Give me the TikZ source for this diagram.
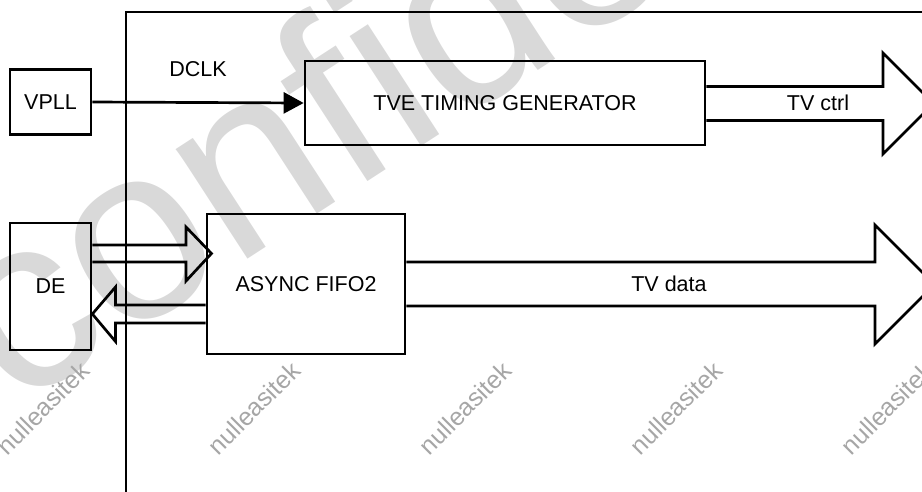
\documentclass[tikz,border=0pt]{standalone}
\usepackage{fontspec}
\setmainfont{Liberation Sans}
\usetikzlibrary{arrows.meta,calc}
\begin{document}
\begin{tikzpicture}[x=1pt,y=-1pt,
  lw/.style={line width=2.7pt},
  blk/.style={lw,draw=black,rectangle,inner sep=0pt,font=\fontsize{21.5}{21.5}\selectfont},
  lbl/.style={inner sep=0pt,font=\fontsize{21.5}{21.5}\selectfont},
  bar/.style={lw,line join=miter},
  wmsmall/.style={rotate=45,text=black!35,inner sep=0pt,font=\fontsize{25}{25}\selectfont},
  wmbig/.style={text=black!15,inner sep=0pt,font=\fontsize{248}{248}\selectfont}]
\useasboundingbox (0,0) rectangle (922,491);
\clip (0,0) rectangle (922,491);
% background watermarks
\node[wmbig,rotate=33,anchor=base west] (wmc) at (14,411) {confidential};
\foreach \i/\xx in {1/43,2/254,3/465,4/676,5/887}
  \node[wmsmall] (wm\i) at (\xx,408) {nulleasitek};
% frame
\coordinate (fb) at (126,495);
\coordinate (fc) at (126,12);
\coordinate (fr) at (930,12);
\draw[lw] (fb) -- (fc) -- (fr);
% blocks
\node[blk,minimum width=81pt,minimum height=65pt] (vpll) at (50.5,102) {VPLL};
\node[blk,minimum width=400pt,minimum height=84pt] (tve) at (505,103) {TVE TIMING GENERATOR};
\node[blk,minimum width=198pt,minimum height=140pt] (fifo) at (306,284) {ASYNC FIFO2};
\node[blk,minimum width=81pt,minimum height=127pt] (de) at (50.5,286.5) {DE};
% DCLK
\draw[lw,-{Triangle[length=20pt,width=21pt]}] (vpll.east) -- (tve.west);
\node[lbl] (dclk) at (198,69) {DCLK};
% TV ctrl block arrow
\coordinate (ctrltip) at (933.5,103.5);
\draw[bar] (tve.east |- 0,86.5) -- (883,86.5) -- (883,53) -- (ctrltip) -- (883,154) -- (883,120.5) -- (tve.east |- 0,120.5);
\node[lbl] (tvctrl) at (818,103) {TV ctrl};
% TV data block arrow
\coordinate (datatip) at (934.5,284.5);
\draw[bar] (fifo.east |- 0,262) -- (875,262) -- (875,225) -- (datatip) -- (875,344) -- (875,306) -- (fifo.east |- 0,306);
\node[lbl] (tvdata) at (669,284) {TV data};
% DE -> FIFO
\coordinate (intip) at (211.5,253.5);
\draw[bar] (de.east |- 0,245) -- (186,245) -- (186,227) -- (intip) -- (186,281) -- (186,262) -- (de.east |- 0,262);
% FIFO -> DE
\draw[bar] (fifo.west |- 0,305) -- (115.5,305) -- (115.5,287) -- (de.east |- 0,314) -- (115.5,341.5) -- (115.5,323) -- (fifo.west |- 0,323);
\end{tikzpicture}
\end{document}
